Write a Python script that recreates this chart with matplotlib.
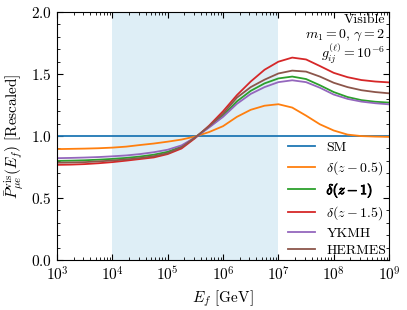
import numpy as np
import matplotlib
matplotlib.use("Agg")
import matplotlib.pyplot as plt
import matplotlib.patheffects as pe

plt.rcParams["font.family"] = "serif"
plt.rcParams["font.serif"] = ["cmr10", "DejaVu Serif"]
plt.rcParams["mathtext.fontset"] = "cm"
plt.rcParams["axes.formatter.use_mathtext"] = True

# log10(E_f / GeV) grid
logE = [3.0, 3.25, 3.5, 3.75, 4.0, 4.25, 4.5, 4.75, 5.0, 5.25, 5.5, 5.75, 6.0,
        6.25, 6.5, 6.75, 7.0, 7.25, 7.5, 7.75, 8.0, 8.25, 8.5, 8.75, 9.0]

sm = [1.0] * len(logE)
d05 = [0.895, 0.897, 0.899, 0.902, 0.907, 0.915, 0.928, 0.940, 0.955, 0.972, 0.997, 1.033, 1.08,
       1.155, 1.212, 1.245, 1.257, 1.23, 1.165, 1.095, 1.045, 1.012, 1.0, 0.996, 0.994]
d1 = [0.80, 0.802, 0.805, 0.81, 0.816, 0.824, 0.835, 0.85, 0.873, 0.915, 0.99, 1.075, 1.165,
      1.28, 1.365, 1.425, 1.465, 1.48, 1.46, 1.41, 1.355, 1.315, 1.29, 1.277, 1.27]
d15 = [0.768, 0.770, 0.774, 0.781, 0.79, 0.802, 0.815, 0.828, 0.855, 0.90, 0.985, 1.085, 1.20,
       1.33, 1.44, 1.535, 1.60, 1.633, 1.618, 1.565, 1.51, 1.475, 1.452, 1.44, 1.433]
ykmh = [0.822, 0.824, 0.827, 0.831, 0.837, 0.844, 0.855, 0.87, 0.89, 0.925, 0.99, 1.07, 1.155,
        1.26, 1.34, 1.395, 1.435, 1.45, 1.435, 1.39, 1.335, 1.30, 1.278, 1.265, 1.256]
hermes = [0.785, 0.787, 0.790, 0.796, 0.803, 0.812, 0.823, 0.838, 0.862, 0.91, 0.99, 1.08, 1.18,
          1.31, 1.395, 1.455, 1.505, 1.528, 1.52, 1.48, 1.43, 1.395, 1.37, 1.355, 1.345]

E = 10.0 ** np.array(logE)

fig = plt.figure(figsize=(4.07, 3.10), dpi=100)
ax = fig.add_axes([0.140, 0.161, 0.816, 0.800])

ax.axvspan(1e4, 1e7, color="#deeef6", lw=0)

lw = 1.3
ax.plot(E, sm, color="C0", lw=lw, label=r"SM")
ax.plot(E, d05, color="C1", lw=lw, label=r"$\delta(z-0.5)$")
ax.plot(E, d1, color="C2", lw=lw, label=r"$\delta(z-1)$")
ax.plot(E, d15, color="C3", lw=lw, label=r"$\delta(z-1.5)$")
ax.plot(E, ykmh, color="C4", lw=lw, label=r"YKMH")
ax.plot(E, hermes, color="C5", lw=lw, label=r"HERMES")

ax.set_xscale("log")
ax.set_xlim(1e3, 1e9)
ax.set_ylim(0, 2)
ax.set_yticks([0, 0.5, 1.0, 1.5, 2.0])
ax.set_yticks(np.arange(0, 2.01, 0.1), minor=True)
ax.tick_params(which="both", direction="in", top=True, right=True, labelsize=11)
ax.tick_params(which="major", length=4)
ax.tick_params(which="minor", length=2)

ax.set_xlabel(r"$E_f$ [GeV]", fontsize=11)
ax.set_ylabel(r"$\bar{P}^{\rm vis}_{\mu e}(E_f)$ [Rescaled]", fontsize=11)

ax.text(0.988, 0.993, "Visible", transform=ax.transAxes, ha="right", va="top", fontsize=10)
ax.text(0.988, 0.938, r"$m_1=0,\,\gamma=2$", transform=ax.transAxes, ha="right", va="top", fontsize=10)
ax.text(0.988, 0.88, r"$g^{(\ell)}_{ij}=10^{-6}$", transform=ax.transAxes, ha="right", va="top", fontsize=10)

leg = ax.legend(loc="lower right", bbox_to_anchor=(1.0, 0.0), frameon=False, fontsize=10,
                handlelength=2.0, labelspacing=0.35, borderaxespad=0.0, borderpad=0.2)
# bold delta(z-1) entry
leg.get_texts()[2].set_path_effects([pe.withStroke(linewidth=0.7, foreground="black")])

fig.savefig("out.png", dpi=100)
